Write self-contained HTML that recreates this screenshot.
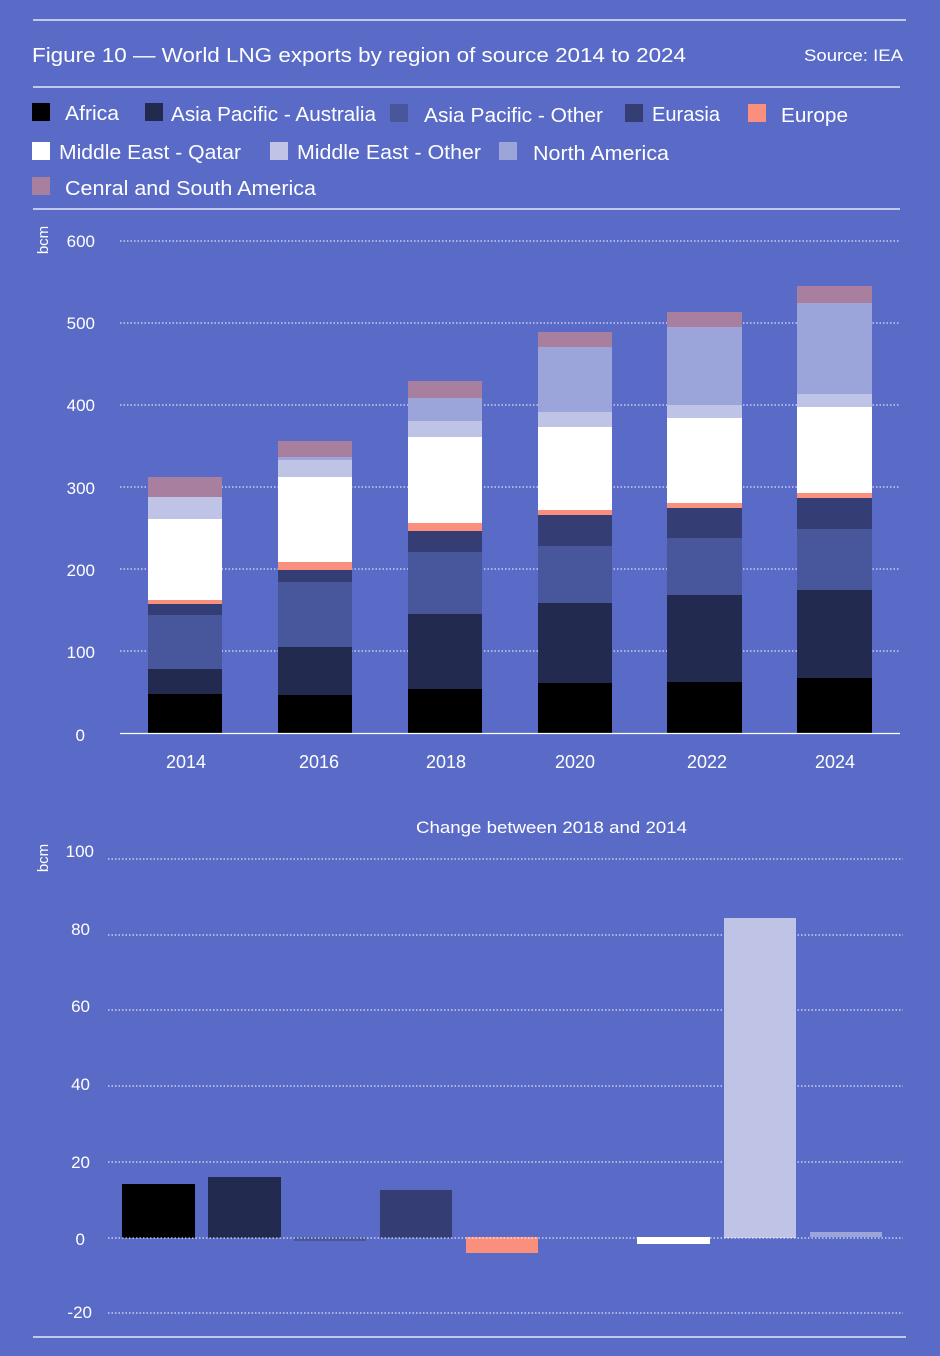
<!DOCTYPE html>
<html><head><meta charset="utf-8"><style>
html,body{margin:0;padding:0;background:#5a6bc7;}
svg{display:block;font-family:"Liberation Sans",sans-serif;}
</style></head><body>
<svg width="940" height="1356" viewBox="0 0 940 1356" xmlns="http://www.w3.org/2000/svg">
<rect width="940" height="1356" fill="#5a6bc7"/>
<g stroke="#fff" stroke-width="1.3">
<line x1="33" y1="20" x2="906" y2="20"/>
<line x1="33" y1="87" x2="900" y2="87"/>
<line x1="33" y1="209" x2="900" y2="209"/>
<line x1="33" y1="1337" x2="906" y2="1337"/>
</g>
<g fill="#fff">
<text x="32" y="62" font-size="20" textLength="654" lengthAdjust="spacingAndGlyphs">Figure 10  — World LNG exports by region of source 2014 to 2024</text>
<text x="804" y="61" font-size="17" textLength="99" lengthAdjust="spacingAndGlyphs">Source: IEA</text>
<g font-size="20" lengthAdjust="spacingAndGlyphs">
<text x="65" y="120" textLength="54" lengthAdjust="spacingAndGlyphs">Africa</text>
<text x="171" y="121" textLength="205" lengthAdjust="spacingAndGlyphs">Asia Pacific - Australia</text>
<text x="424" y="122" textLength="179" lengthAdjust="spacingAndGlyphs">Asia Pacific - Other</text>
<text x="652" y="121" textLength="68" lengthAdjust="spacingAndGlyphs">Eurasia</text>
<text x="781" y="122" textLength="67" lengthAdjust="spacingAndGlyphs">Europe</text>
<text x="59" y="159" textLength="182" lengthAdjust="spacingAndGlyphs">Middle East - Qatar</text>
<text x="297" y="159" textLength="184" lengthAdjust="spacingAndGlyphs">Middle East - Other</text>
<text x="533" y="160" textLength="136" lengthAdjust="spacingAndGlyphs">North America</text>
<text x="65" y="195" textLength="251" lengthAdjust="spacingAndGlyphs">Cenral  and South America</text>
</g>
</g>
<rect x="32" y="103" width="18" height="18" fill="#000"/>
<rect x="145" y="103" width="18" height="18" fill="#232a4f"/>
<rect x="390" y="104" width="18" height="18" fill="#48579b"/>
<rect x="625" y="104" width="18" height="18" fill="#343e75"/>
<rect x="748" y="104" width="18" height="18" fill="#fa8f7e"/>
<rect x="32" y="142" width="18" height="18" fill="#fff"/>
<rect x="270" y="142" width="18" height="18" fill="#bfc4e6"/>
<rect x="499" y="142" width="18" height="18" fill="#9ba5da"/>
<rect x="32" y="177" width="18" height="18" fill="#a87f9f"/>

<!-- top chart -->
<text transform="translate(48,240) rotate(-90)" fill="#fff" font-size="15" text-anchor="middle">bcm</text>
<g fill="#fff" font-size="17" text-anchor="end">
<text x="95" y="247">600</text><text x="95" y="329">500</text><text x="95" y="411">400</text>
<text x="95" y="494">300</text><text x="95" y="576">200</text><text x="95" y="658">100</text><text x="85" y="741">0</text>
</g>
<g stroke="#fff" stroke-width="1" stroke-dasharray="1.5,2">
<line x1="120" y1="241" x2="900" y2="241"/><line x1="120" y1="323" x2="900" y2="323"/>
<line x1="120" y1="405" x2="900" y2="405"/><line x1="120" y1="487" x2="900" y2="487"/>
<line x1="120" y1="569" x2="900" y2="569"/><line x1="120" y1="651" x2="900" y2="651"/>
</g>
<g id="bars">
<rect x="148" y="477" width="74" height="20" fill="#a87f9f"/>
<rect x="148" y="497" width="74" height="22" fill="#bfc4e6"/>
<rect x="148" y="519" width="74" height="81" fill="#fff"/>
<rect x="148" y="600" width="74" height="4" fill="#fa8f7e"/>
<rect x="148" y="604" width="74" height="11" fill="#343e75"/>
<rect x="148" y="615" width="74" height="54" fill="#48579b"/>
<rect x="148" y="669" width="74" height="25" fill="#232a4f"/>
<rect x="148" y="694" width="74" height="39" fill="#000"/>
<rect x="278" y="441" width="74" height="16" fill="#a87f9f"/>
<rect x="278" y="457" width="74" height="3" fill="#9ba5da"/>
<rect x="278" y="460" width="74" height="17" fill="#bfc4e6"/>
<rect x="278" y="477" width="74" height="85" fill="#fff"/>
<rect x="278" y="562" width="74" height="8" fill="#fa8f7e"/>
<rect x="278" y="570" width="74" height="12" fill="#343e75"/>
<rect x="278" y="582" width="74" height="65" fill="#48579b"/>
<rect x="278" y="647" width="74" height="48" fill="#232a4f"/>
<rect x="278" y="695" width="74" height="38" fill="#000"/>
<rect x="408" y="381" width="74" height="17" fill="#a87f9f"/>
<rect x="408" y="398" width="74" height="23" fill="#9ba5da"/>
<rect x="408" y="421" width="74" height="16" fill="#bfc4e6"/>
<rect x="408" y="437" width="74" height="86" fill="#fff"/>
<rect x="408" y="523" width="74" height="8" fill="#fa8f7e"/>
<rect x="408" y="531" width="74" height="21" fill="#343e75"/>
<rect x="408" y="552" width="74" height="62" fill="#48579b"/>
<rect x="408" y="614" width="74" height="75" fill="#232a4f"/>
<rect x="408" y="689" width="74" height="44" fill="#000"/>
<rect x="538" y="332" width="74" height="15" fill="#a87f9f"/>
<rect x="538" y="347" width="74" height="65" fill="#9ba5da"/>
<rect x="538" y="412" width="74" height="15" fill="#bfc4e6"/>
<rect x="538" y="427" width="74" height="83" fill="#fff"/>
<rect x="538" y="510" width="74" height="5" fill="#fa8f7e"/>
<rect x="538" y="515" width="74" height="31" fill="#343e75"/>
<rect x="538" y="546" width="74" height="57" fill="#48579b"/>
<rect x="538" y="603" width="74" height="80" fill="#232a4f"/>
<rect x="538" y="683" width="74" height="50" fill="#000"/>
<rect x="667" y="312" width="75" height="15" fill="#a87f9f"/>
<rect x="667" y="327" width="75" height="78" fill="#9ba5da"/>
<rect x="667" y="405" width="75" height="13" fill="#bfc4e6"/>
<rect x="667" y="418" width="75" height="85" fill="#fff"/>
<rect x="667" y="503" width="75" height="5" fill="#fa8f7e"/>
<rect x="667" y="508" width="75" height="30" fill="#343e75"/>
<rect x="667" y="538" width="75" height="57" fill="#48579b"/>
<rect x="667" y="595" width="75" height="87" fill="#232a4f"/>
<rect x="667" y="682" width="75" height="51" fill="#000"/>
<rect x="797" y="286" width="75" height="17" fill="#a87f9f"/>
<rect x="797" y="303" width="75" height="91" fill="#9ba5da"/>
<rect x="797" y="394" width="75" height="13" fill="#bfc4e6"/>
<rect x="797" y="407" width="75" height="86" fill="#fff"/>
<rect x="797" y="493" width="75" height="5" fill="#fa8f7e"/>
<rect x="797" y="498" width="75" height="31" fill="#343e75"/>
<rect x="797" y="529" width="75" height="61" fill="#48579b"/>
<rect x="797" y="590" width="75" height="88" fill="#232a4f"/>
<rect x="797" y="678" width="75" height="55" fill="#000"/>
</g>
<line x1="120" y1="733.5" x2="900" y2="733.5" stroke="#fff" stroke-width="1.3"/>
<g fill="#fff" font-size="18" text-anchor="middle">
<text x="186" y="768">2014</text><text x="319" y="768">2016</text><text x="446" y="768">2018</text>
<text x="575" y="768">2020</text><text x="707" y="768">2022</text><text x="835" y="768">2024</text>
</g>

<!-- bottom chart -->
<text x="416" y="833" fill="#fff" font-size="17" textLength="271" lengthAdjust="spacingAndGlyphs">Change between 2018 and 2014</text>
<text transform="translate(48,858) rotate(-90)" fill="#fff" font-size="15" text-anchor="middle">bcm</text>
<g fill="#fff" font-size="17" text-anchor="end">
<text x="94" y="857">100</text><text x="90" y="935">80</text><text x="90" y="1012">60</text>
<text x="90" y="1090">40</text><text x="90" y="1168">20</text><text x="85" y="1245">0</text><text x="92" y="1318">-20</text>
</g>
<g stroke="#fff" stroke-width="1" stroke-dasharray="1.5,2">
<line x1="108" y1="859" x2="903" y2="859"/><line x1="108" y1="935" x2="903" y2="935"/>
<line x1="108" y1="1010" x2="903" y2="1010"/><line x1="108" y1="1086" x2="903" y2="1086"/>
<line x1="108" y1="1162" x2="903" y2="1162"/><line x1="108" y1="1313" x2="903" y2="1313"/>
</g>
<rect x="122" y="1184" width="73" height="54" fill="#000"/>
<rect x="208" y="1177" width="73" height="61" fill="#232a4f"/>
<rect x="294" y="1237" width="72" height="4" fill="#48579b"/>
<rect x="380" y="1190" width="72" height="48" fill="#343e75"/>
<rect x="466" y="1237" width="72" height="16" fill="#fa8f7e"/>
<rect x="637" y="1237" width="73" height="7" fill="#fff"/>
<rect x="724" y="918" width="72" height="320" fill="#bfc4e6"/>
<rect x="810" y="1232" width="72" height="5" fill="#9ba5da"/>
<line x1="108" y1="1238" x2="903" y2="1238" stroke="#fff" stroke-width="1" stroke-dasharray="1.5,2"/>
</svg>
</body></html>
